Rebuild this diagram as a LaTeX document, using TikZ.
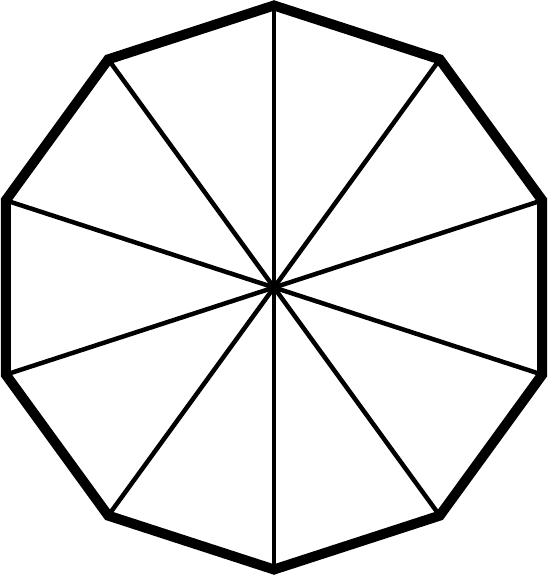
\documentclass[tikz,border=0pt]{standalone}
\usetikzlibrary{calc}
\begin{document}
\begin{tikzpicture}[x=1pt,y=1pt,
  rim/.style={line width=10pt,line join=miter},
  spoke/.style={line width=4.5pt}]
\useasboundingbox (0,0) rectangle (548,575);
\coordinate (c) at (274,287.5);
\foreach \k in {0,...,9}{
  \coordinate (v\k) at ($(c)+({90+36*\k}:282)$);
}
\foreach \k in {0,...,9}{
  \draw[spoke] (c) -- (v\k);
}
\draw[rim] (v0)--(v1)--(v2)--(v3)--(v4)--(v5)--(v6)--(v7)--(v8)--(v9)--cycle;
\end{tikzpicture}
\end{document}
